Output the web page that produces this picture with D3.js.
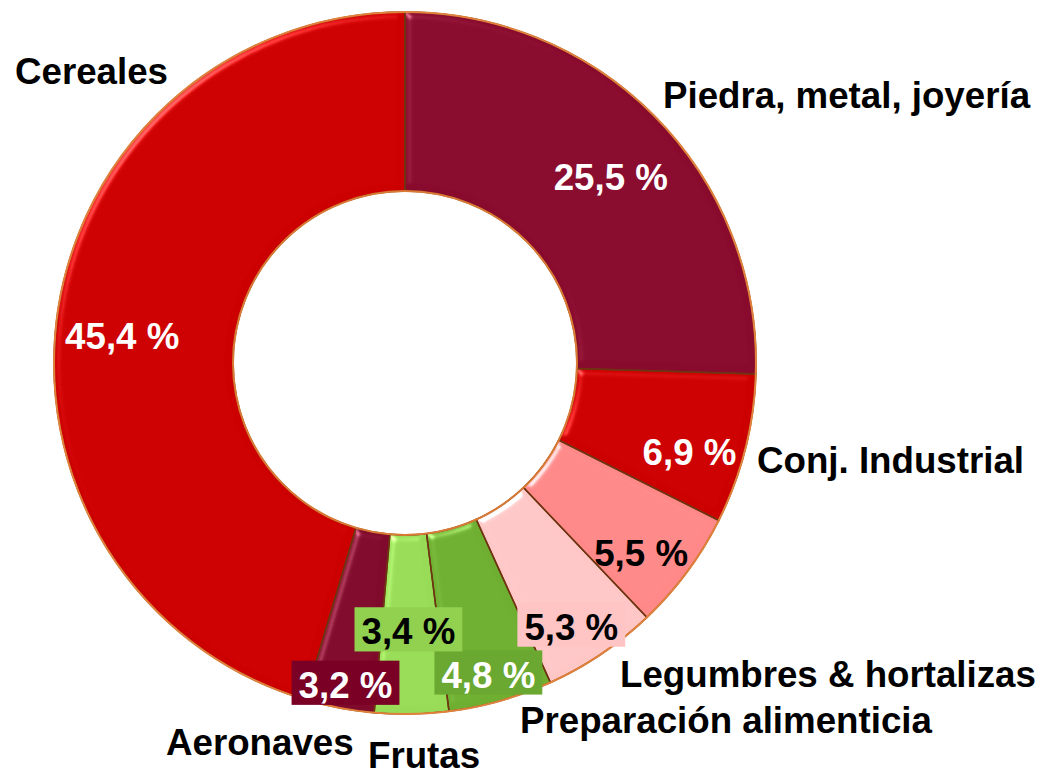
<!DOCTYPE html>
<html>
<head>
<meta charset="utf-8">
<script src="https://cdn.jsdelivr.net/npm/d3@7"></script>
<style>
  html, body { margin: 0; padding: 0; background: #fff; }
  svg { display: block; }
  text { font-family: "Liberation Sans", Arial, sans-serif; font-weight: bold; }
</style>
</head>
<body>
<svg id="chart" width="1044" height="777"></svg>
<script>
// ---- data ----
const categories = ["Piedra, metal, joyería", "Conj. Industrial", "Legumbres & hortalizas",
                    "Preparación alimenticia", "", "Frutas", "Aeronaves", "Cereales"];
const values = [25.5, 6.9, 5.5, 5.3, 4.8, 3.4, 3.2, 45.4];
const valueLabels = ["25,5 %", "6,9 %", "5,5 %", "5,3 %", "4,8 %", "3,4 %", "3,2 %", "45,4 %"];

// ---- styling / layout ----
const sliceColors = ["#880a2d", "#cc0000", "#ff8888", "#ffc6c6", "#6eae31", "#97db57", "#800a2b", "#cc0000"];
const labelBoxColors = [null, null, null, "#ffc4c4", "#6aa832", "#92d050", "#7a0026", null];
const valueTextColors = ["#fff", "#fff", "#000", "#000", "#fff", "#000", "#fff", "#fff"];
const valueOffsets = [[18, 9], [31, 38], [26, 47], [20, 60], [12, 73], [-1.5, 20], [-10.5, 78], [-24, 24]];
const catLabelPos = [[663, 108], [757, 473], [620, 687], [520, 733], null, [368, 768], [166, 755], [15, 84]];

const cx = 405, cy = 363, rOuter = 351, rInner = 172;
const fontSize = 36.7;

const svg = d3.select("#chart");
const defs = svg.append("defs");
const f = defs.append("filter").attr("id", "bevel").attr("color-interpolation-filters", "sRGB")
  .attr("x", "-5%").attr("y", "-5%").attr("width", "110%").attr("height", "110%");
f.append("feGaussianBlur").attr("in", "SourceAlpha").attr("stdDeviation", 3.5).attr("result", "blur");
const spec = f.append("feSpecularLighting").attr("in", "blur").attr("surfaceScale", 4)
  .attr("specularConstant", 0.8).attr("specularExponent", 28).attr("lighting-color", "#ffffff").attr("result", "spec");
spec.append("feDistantLight").attr("azimuth", 225).attr("elevation", 30);
f.append("feComposite").attr("in", "spec").attr("in2", "SourceAlpha").attr("operator", "in").attr("result", "specOut");
f.append("feComposite").attr("in", "SourceGraphic").attr("in2", "specOut").attr("operator", "arithmetic")
  .attr("k1", 0).attr("k2", 1).attr("k3", 0.5).attr("k4", 0);

const pie = d3.pie().sort(null).value(d => d)(values);
const arc = d3.arc().innerRadius(rInner).outerRadius(rOuter);

const g = svg.append("g").attr("transform", `translate(${cx},${cy})`);

g.selectAll("path.slice").data(pie).join("path")
  .attr("class", "slice")
  .attr("d", arc)
  .attr("fill", (d, i) => sliceColors[i])
  .attr("filter", "url(#bevel)");

g.selectAll("path.edge").data(pie).join("path")
  .attr("class", "edge")
  .attr("d", arc)
  .attr("fill", "none")
  .attr("stroke", "#6e3512")
  .attr("stroke-width", 1.5);

g.append("circle").attr("r", rOuter).attr("fill", "none").attr("stroke", "#e0823c").attr("stroke-width", 2);
g.append("circle").attr("r", rInner).attr("fill", "none").attr("stroke", "#d97a35").attr("stroke-width", 2);

// value labels
const mid = d3.arc().innerRadius((rInner + rOuter) / 2).outerRadius((rInner + rOuter) / 2);
const vl = g.selectAll("g.vlabel").data(pie).join("g").attr("class", "vlabel")
  .attr("transform", (d, i) => {
    const c = mid.centroid(d);
    return `translate(${c[0] + valueOffsets[i][0]},${c[1] + valueOffsets[i][1]})`;
  });
vl.each(function(d, i) {
  const sel = d3.select(this);
  const rect = sel.append("rect");
  const t = sel.append("text").attr("text-anchor", "middle").attr("font-size", fontSize)
    .attr("fill", valueTextColors[i]).text(valueLabels[i]);
  if (labelBoxColors[i]) {
    const bb = t.node().getBBox();
    rect.attr("x", bb.x - 7).attr("y", -fontSize - 0.5).attr("width", bb.width + 14).attr("height", fontSize + 7.5)
      .attr("fill", labelBoxColors[i]);
  } else rect.remove();
});

// category labels
svg.selectAll("text.cat").data(categories.map((c, i) => ({ c, p: catLabelPos[i] })).filter(d => d.p && d.c))
  .join("text").attr("class", "cat")
  .attr("x", d => d.p[0]).attr("y", d => d.p[1])
  .attr("font-size", fontSize).attr("fill", "#000")
  .text(d => d.c);
</script>
</body>
</html>
